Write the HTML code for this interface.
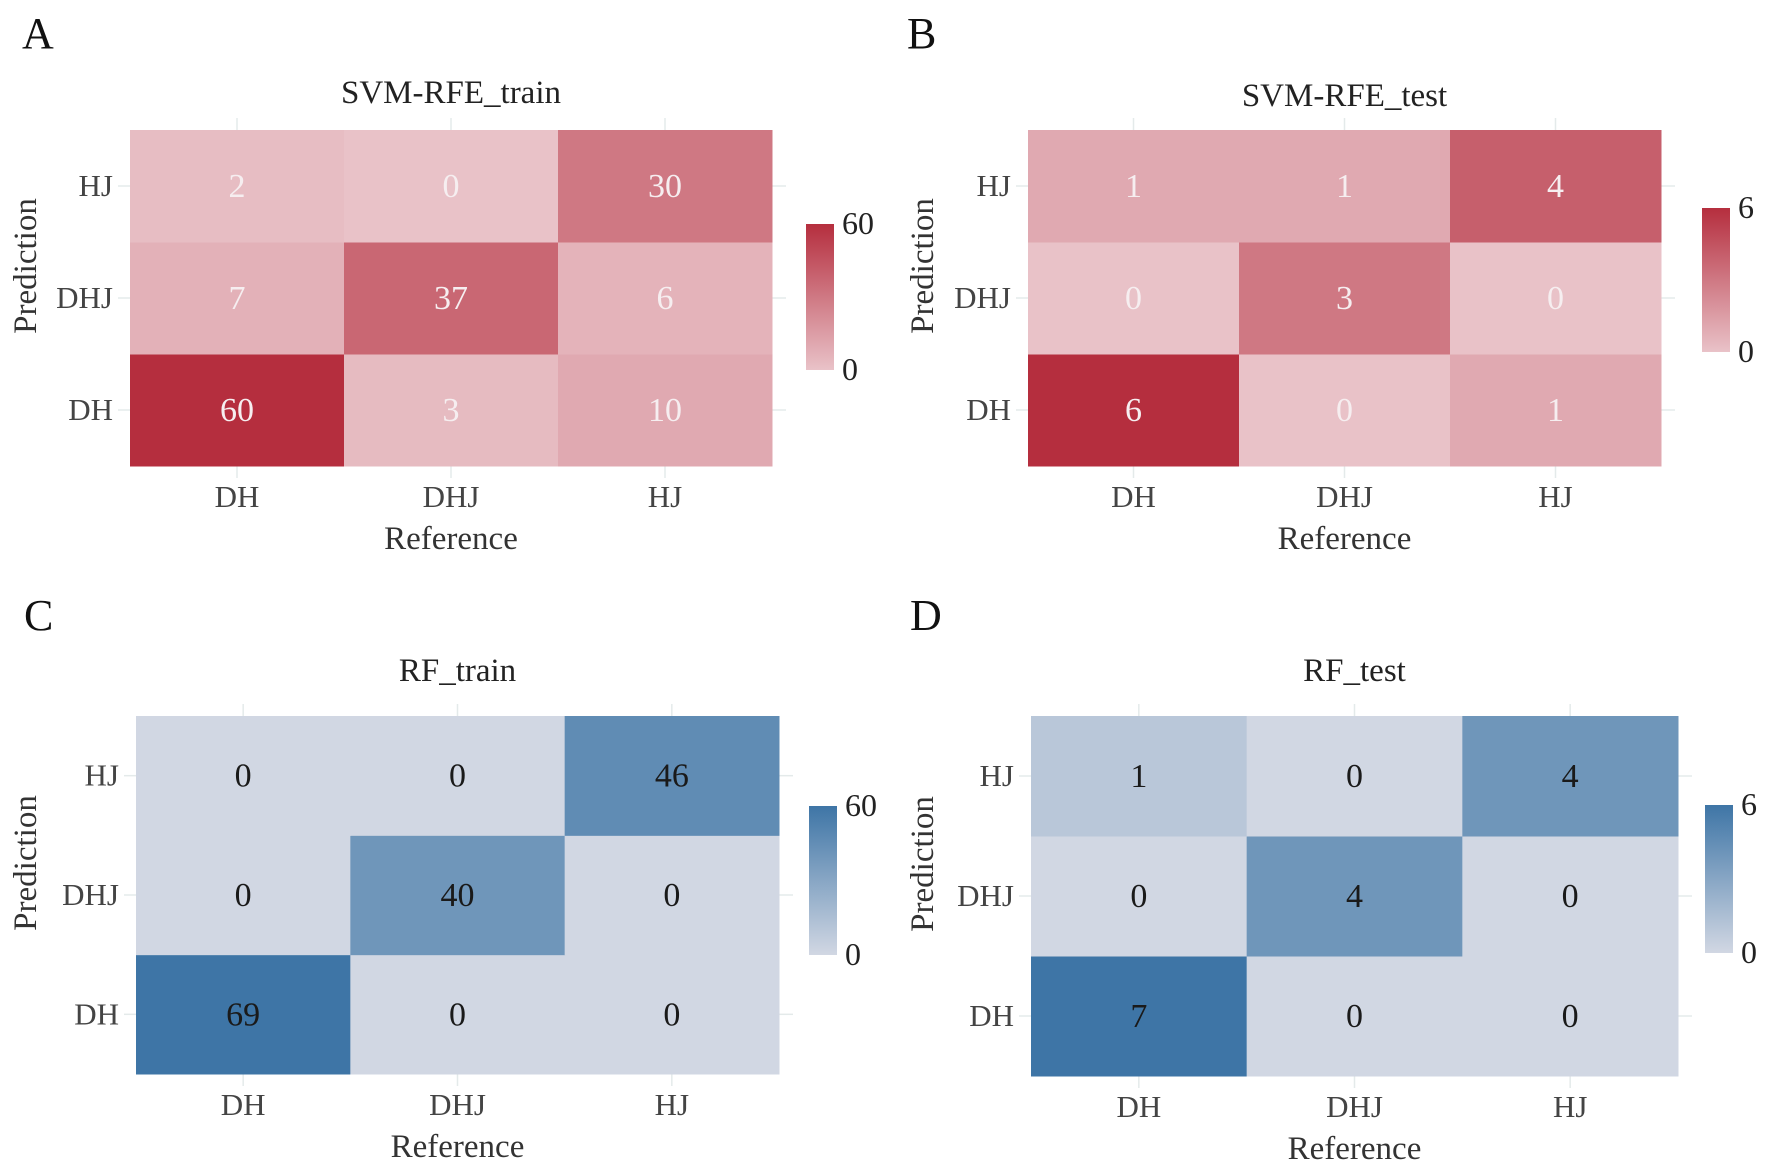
<!DOCTYPE html>
<html><head><meta charset="utf-8">
<style>
html,body{margin:0;padding:0;background:#fff;}
svg{display:block;font-family:"Liberation Serif",serif;}
</style></head>
<body>
<svg id="fig" width="1772" height="1174" viewBox="0 0 1772 1174" xmlns="http://www.w3.org/2000/svg"></svg>
<script>
const refCats = ["DH","DHJ","HJ"];
const predCats = ["DH","DHJ","HJ"];
// values[row = prediction index from DH..HJ][col = reference]
const svmTrain = [[60,3,10],[7,37,6],[2,0,30]];
const svmTest = [[6,0,1],[0,3,0],[1,1,4]];
const rfTrain = [[69,0,0],[0,40,0],[0,0,46]];
const rfTest = [[7,0,0],[0,4,0],[1,0,4]];
const legendMaxA = 60, legendMaxB = 6;

const NS = "http://www.w3.org/2000/svg";
const svg = document.getElementById("fig");
function mk(tag, attrs, parent, text){
  const e = document.createElementNS(NS, tag);
  for (const k in attrs) e.setAttribute(k, attrs[k]);
  if (text !== undefined) e.textContent = text;
  (parent || svg).appendChild(e);
  return e;
}
function lerp(a,b,t){return Math.round(a+(b-a)*t);}
function colorFor(lo, hi, v, max){
  const t = Math.max(0, Math.min(1, v/max));
  return `rgb(${lerp(lo[0],hi[0],t)},${lerp(lo[1],hi[1],t)},${lerp(lo[2],hi[2],t)})`;
}
const RED = {lo:[233,194,200], hi:[181,46,62], txt:"#f6eef0"};
const BLUE = {lo:[209,215,227], hi:[62,117,166], txt:"#1a1a1a"};

function panel(cfg){
  const g = mk("g", {});
  
  
  const lt = mk("text", {x:cfg.letterX, y:cfg.letterY, "font-size":44, fill:"#111"}, g, cfg.letter);
  
  
  const {x0,x1,y0,y1} = cfg;
  const cw = (x1-x0)/3, ch = (y1-y0)/3;
  const xPos = i => x0 + cw*(i+0.5);
  const yPos = j => y1 - ch*(j+0.5);
  const t = mk("text", {x:(x0+x1)/2, y:cfg.titleY, "font-size":33, fill:"#222", "text-anchor":"middle"}, g, cfg.title);
  
  
  for (let i=0;i<3;i++){
    mk("line",{x1:xPos(i),x2:xPos(i),y1:y0-12,y2:y0,stroke:"#e4eaea","stroke-width":1.5},g);
    mk("line",{x1:xPos(i),x2:xPos(i),y1:y1,y2:y1+12,stroke:"#e4eaea","stroke-width":1.5},g);
    mk("line",{x1:x0-12,x2:x0,y1:yPos(i),y2:yPos(i),stroke:"#e4eaea","stroke-width":1.5},g);
    mk("line",{x1:x1,x2:x1+14,y1:yPos(i),y2:yPos(i),stroke:"#e4eaea","stroke-width":1.5},g);
  }
  cfg.values.forEach((row,j)=>{
    row.forEach((v,i)=>{
      const r = mk("rect",{x:x0+cw*i,y:y1-ch*(j+1),width:cw+0.5,height:ch+0.5,fill:colorFor(cfg.pal.lo,cfg.pal.hi,v,cfg.max)},g);
      
      
      const tx = mk("text",{x:xPos(i),y:yPos(j)+11,"font-size":34,fill:cfg.pal.txt,"text-anchor":"middle"},g,String(v));
      
      
    });
  });
  refCats.forEach((c,i)=>{
    const e = mk("text",{x:xPos(i),y:y1+41,"font-size":31,fill:"#444","text-anchor":"middle"},g,c);
    
    
  });
  predCats.forEach((c,j)=>{
    const e = mk("text",{x:x0-17,y:yPos(j)+10,"font-size":31,fill:"#444","text-anchor":"end"},g,c);
    
    
  });
  const xt = mk("text",{x:(x0+x1)/2,y:y1+83,"font-size":33,fill:"#333","text-anchor":"middle"},g,"Reference");
  
  
  const yc = (y0+y1)/2 - 32;
  const yt = mk("text",{x:cfg.yTitleX,y:yc,"font-size":33,fill:"#333","text-anchor":"middle",transform:`rotate(-90 ${cfg.yTitleX} ${yc})`},g,"Prediction");
  
  
  const gid = "grad" + cfg.letter;
  const defs = mk("defs",{},g);
  const lg = mk("linearGradient",{id:gid,x1:0,y1:1,x2:0,y2:0},defs);
  mk("stop",{offset:"0",  "stop-color":colorFor(cfg.pal.lo,cfg.pal.hi,0,1)},lg);
  mk("stop",{offset:"1",  "stop-color":colorFor(cfg.pal.lo,cfg.pal.hi,1,1)},lg);
  const L = cfg.leg;
  const lr = mk("rect",{x:L.x,y:L.y0,width:28,height:L.y1-L.y0,fill:`url(#${gid})`},g);
  
  
  const hi = mk("text",{x:L.x+36,y:L.y0+10,"font-size":32,fill:"#222"},g,String(cfg.max));
  
  
  const lo = mk("text",{x:L.x+36,y:L.y1+10,"font-size":32,fill:"#222"},g,"0");
  
  
}

panel({name:"panel-a-svm-train",letter:"A",letterX:22,letterY:48,title:"SVM-RFE_train",titleY:103,
  x0:130,x1:772,y0:130,y1:466,values:svmTrain,pal:RED,max:legendMaxA,yTitleX:36,
  leg:{x:806,y0:224,y1:370}});
panel({name:"panel-b-svm-test",letter:"B",letterX:907,letterY:48,title:"SVM-RFE_test",titleY:106,
  x0:1028,x1:1661,y0:130,y1:466,values:svmTest,pal:RED,max:legendMaxB,yTitleX:933,
  leg:{x:1702,y0:208,y1:352}});
panel({name:"panel-c-rf-train",letter:"C",letterX:24,letterY:630,title:"RF_train",titleY:681,
  x0:136,x1:779,y0:716,y1:1074,values:rfTrain,pal:BLUE,max:legendMaxA,yTitleX:36,
  leg:{x:809,y0:806,y1:955}});
panel({name:"panel-d-rf-test",letter:"D",letterX:910,letterY:630,title:"RF_test",titleY:681,
  x0:1031,x1:1678,y0:716,y1:1076,values:rfTest,pal:BLUE,max:legendMaxB,yTitleX:933,
  leg:{x:1705,y0:805,y1:953}});
</script>
</body></html>
